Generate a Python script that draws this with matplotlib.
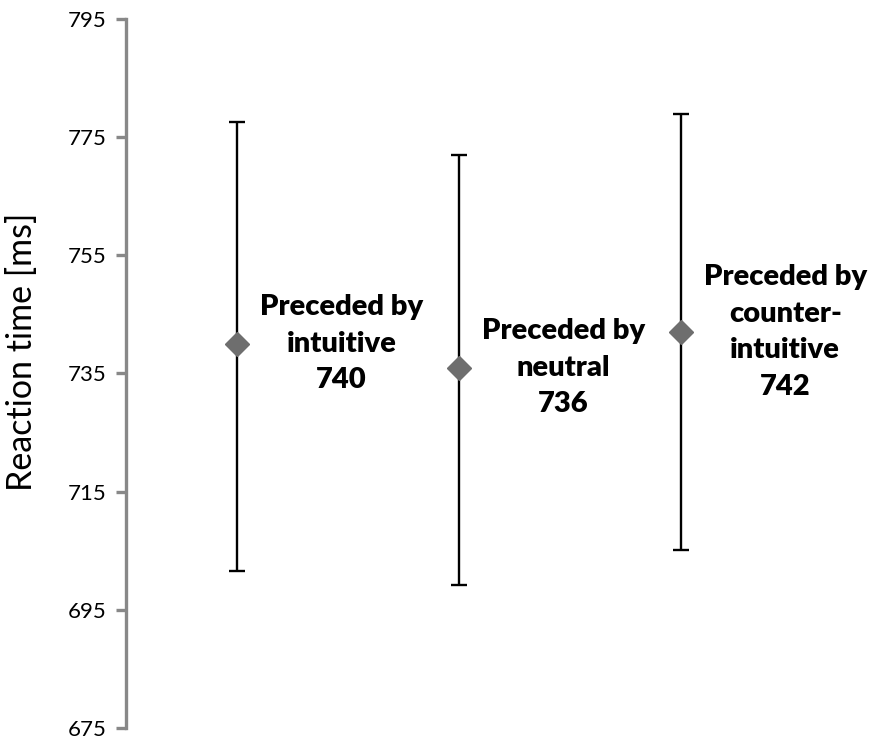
import matplotlib
matplotlib.use("Agg")
import matplotlib.pyplot as plt

# mean reaction time per priming condition, with error bar ends
conditions = ["Preceded by\nintuitive", "Preceded by\nneutral", "Preceded by\ncounter-\nintuitive"]
means = [740, 736, 742]
upper = [777.6, 772.0, 778.9]
lower = [701.5, 699.1, 705.1]
yticks = [675, 695, 715, 735, 755, 775, 795]

x = list(range(1, len(means) + 1))
err_lo = [m - lo for m, lo in zip(means, lower)]
err_hi = [up - m for m, up in zip(means, upper)]

fig = plt.figure(figsize=(8.78, 7.39), dpi=100)
ax = fig.add_axes([0.1435, 0.0153, 0.7585, 0.9587])

ax.errorbar(x, means, yerr=[err_lo, err_hi], fmt="none", ecolor="black",
            elinewidth=1.7, capsize=6, capthick=1.7, zorder=2)
ax.plot(x, means, linestyle="none", marker="D", markersize=12.5,
        color="#6e6e6e", zorder=3)

for xi, m, name in zip(x, means, conditions):
    ax.annotate(f"{name}\n{m}", xy=(xi, m), xytext=(xi + 0.47, m),
                ha="center", va="center", fontsize=21, fontweight="heavy",
                family="Lato", linespacing=1.5)

ax.set_xlim(0.5, 3.5)
ax.set_ylim(675, 795)
ax.set_yticks(yticks)
ax.set_xticks([])

for side in ["top", "right", "bottom"]:
    ax.spines[side].set_visible(False)
ax.spines["left"].set_color("#888888")
ax.spines["left"].set_linewidth(2.4)
ax.tick_params(axis="y", direction="out", length=7, width=2.4, color="#888888",
               labelsize=16, pad=7)
for lab in ax.get_yticklabels():
    lab.set_family("Lato")

fig.text(0.025, 0.524, "Reaction time [ms]", rotation=90, ha="center", va="center",
         fontsize=24.5, family="Lato")

fig.savefig("out.png", dpi=100)
